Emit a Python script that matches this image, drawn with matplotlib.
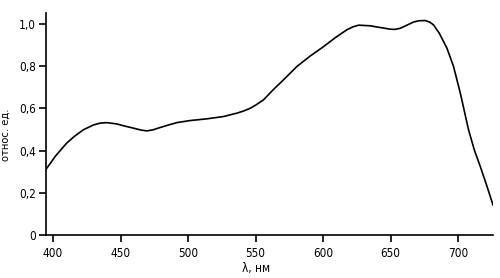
import matplotlib
matplotlib.use("Agg")
import matplotlib.pyplot as plt
from matplotlib.ticker import FixedLocator

wavelength = [394.8, 402, 410.1, 416, 422.4, 429.9, 435, 439.8, 447.2, 453, 459.5, 465, 469.4,
              474, 479.3, 485, 491.6, 501.5, 513.8, 526.2, 536.1, 541, 545.9, 550, 555.8,
              563, 570.6, 580.5, 590, 600.2, 609, 617.5, 622, 626.2, 634.8, 642, 649.6, 653,
              657.0, 662, 666.9, 671, 675.6, 679, 681.7, 686, 691.6, 696.5, 701.5, 707.6,
              712, 716.3, 721, 725.7]
intensity = [0.311, 0.375, 0.435, 0.468, 0.498, 0.521, 0.530, 0.532, 0.526, 0.516, 0.506, 0.497,
             0.493, 0.498, 0.509, 0.520, 0.532, 0.542, 0.550, 0.561, 0.577, 0.587, 0.600, 0.615,
             0.640, 0.688, 0.735, 0.798, 0.846, 0.892, 0.935, 0.972, 0.986, 0.994, 0.991, 0.983,
             0.975, 0.974, 0.979, 0.994, 1.009, 1.015, 1.016, 1.008, 0.995, 0.955, 0.885,
             0.798, 0.672, 0.498, 0.400, 0.324, 0.235, 0.142]

xticks = [400, 450, 500, 550, 600, 650, 700]
yticks = [0, 0.2, 0.4, 0.6, 0.8, 1.0]
ytick_labels = ["0", "0,2", "0,4", "0,6", "0,8", "1,0"]

plt.rcParams['font.family'] = ['DejaVu Sans']
plt.rcParams['font.stretch'] = 'condensed'

fig = plt.figure(figsize=(5, 2.78), dpi=100)
ax = fig.add_axes([0.092, 0.155, 0.894, 0.80])
ax.plot(wavelength, intensity, color="black", lw=1.2)

ax.set_xlim(394.8, 725.7)
ax.set_ylim(0, 1.054)
ax.xaxis.set_major_locator(FixedLocator(xticks))
ax.set_xticklabels([str(t) for t in xticks])
ax.yaxis.set_major_locator(FixedLocator(yticks))
ax.set_yticklabels(ytick_labels)
ax.spines['top'].set_visible(False)
ax.spines['right'].set_visible(False)
for s in ('left', 'bottom'):
    ax.spines[s].set_linewidth(1.2)
ax.tick_params(axis='both', direction='out', length=5, width=1.2, labelsize=8.5, pad=2)
ax.tick_params(axis='x', pad=4)
ax.set_xlabel("λ, нм", fontsize=8.5)
ax.xaxis.set_label_coords(0.47, -0.12)
ax.set_ylabel("отнoс. ед.", fontsize=8)
ax.yaxis.set_label_coords(-0.08, 0.45)

fig.savefig("out.png", dpi=100)
